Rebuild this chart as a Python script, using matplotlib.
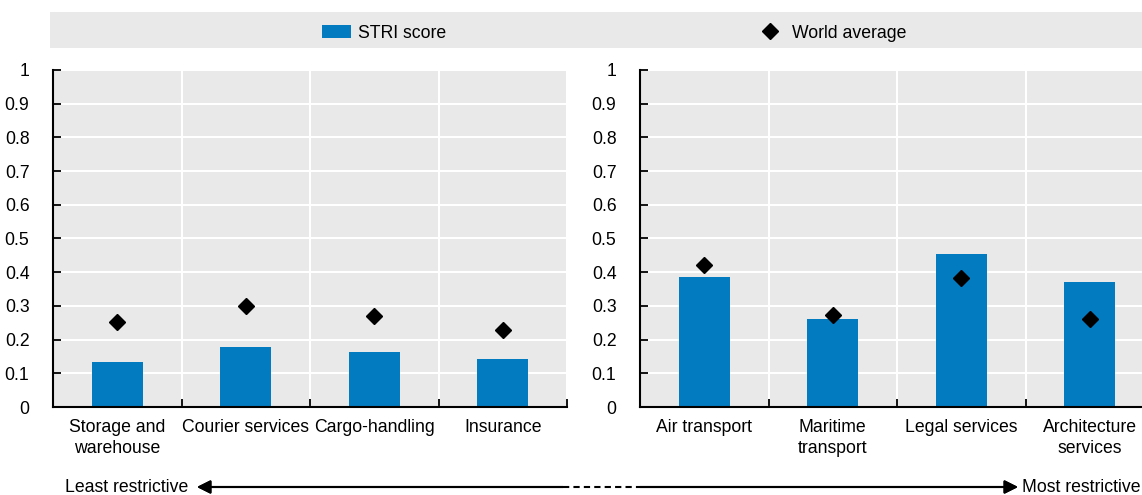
import matplotlib.pyplot as plt
from matplotlib.lines import Line2D
from matplotlib.patches import Rectangle

plt.rcParams['font.family'] = ['Liberation Sans', 'DejaVu Sans']

left_labels = ['Storage and\nwarehouse', 'Courier services', 'Cargo-handling', 'Insurance']
left_stri = [0.133, 0.178, 0.163, 0.141]
left_world = [0.251, 0.299, 0.269, 0.228]

right_labels = ['Air transport', 'Maritime\ntransport', 'Legal services', 'Architecture\nservices']
right_stri = [0.385, 0.260, 0.453, 0.372]
right_world = [0.420, 0.273, 0.384, 0.262]

yticks = [0, 0.1, 0.2, 0.3, 0.4, 0.5, 0.6, 0.7, 0.8, 0.9, 1]
ytick_labels = ['0', '0.1', '0.2', '0.3', '0.4', '0.5', '0.6', '0.7', '0.8', '0.9', '1']

blue = '#037BC1'
grey = '#E9E9E9'
fs = 12.7

W, H = 1142, 495
fig = plt.figure(figsize=(W / 100, H / 100), dpi=100)

# legend band
fig.add_artist(Rectangle((50 / W, 1 - 48 / H), 1 - 50 / W, 36 / H,
                         transform=fig.transFigure, facecolor=grey, edgecolor='none'))


def panel(left_px, labels, stri, world):
    ax = fig.add_axes([left_px / W, 1 - 407 / H, 514 / W, 337 / H])
    ax.set_facecolor(grey)
    x = list(range(len(labels)))
    bars = ax.bar(x, stri, width=0.4, color=blue, zorder=3)
    pts, = ax.plot(x, world, linestyle='none', marker='D', color='black',
                   markersize=8, zorder=4)
    ax.set_xlim(-0.5, len(labels) - 0.5)
    ax.set_ylim(0, 1)
    ax.set_yticks(yticks)
    ax.set_yticklabels(ytick_labels, fontsize=fs)
    ax.set_xticks([i - 0.5 for i in range(len(labels) + 1)])
    ax.set_xticklabels([])
    ax.set_xticks(x, minor=True)
    ax.set_xticklabels(labels, minor=True, fontsize=fs, linespacing=1.3)
    ax.tick_params(axis='x', which='major', direction='in', length=6, width=1.3)
    ax.tick_params(axis='x', which='minor', length=0, pad=9)
    ax.tick_params(axis='y', direction='in', length=6, width=1.3, pad=17)
    for lab in ax.get_yticklabels():
        lab.set_horizontalalignment('right')
    ax.grid(True, color='white', linewidth=1.5, zorder=0)
    ax.set_axisbelow(True)
    for s in ['top', 'right']:
        ax.spines[s].set_visible(False)
    for s in ['left', 'bottom']:
        ax.spines[s].set_linewidth(1.5)
        ax.spines[s].set_zorder(5)
    return bars, pts


bars, pts = panel(53, left_labels, left_stri, left_world)
panel(640, right_labels, right_stri, right_world)

fig.legend([bars], ['STRI score'], loc='center left', bbox_to_anchor=(306 / W, 1 - 33 / H),
           frameon=False, fontsize=fs, handlelength=1.65, handleheight=0.8, handletextpad=0.4)
fig.legend([pts], ['World average'], loc='center left', bbox_to_anchor=(743 / W, 1 - 33 / H),
           frameon=False, fontsize=fs, handlelength=1.3, handletextpad=0.6)

# restrictiveness arrow
ya = 1 - 487 / H
fig.text(65 / W, ya, 'Least restrictive', fontsize=fs, va='center', ha='left')
fig.text(1 - 1 / W, ya, 'Most restrictive', fontsize=fs, va='center', ha='right')
fig.add_artist(Line2D([563 / W, 640 / W], [ya, ya], transform=fig.transFigure,
                      color='black', linewidth=1.5, linestyle=(0, (3, 2))))
fig.add_artist(plt.annotate('', xy=(197 / W, ya), xytext=(563 / W, ya),
                            xycoords='figure fraction', textcoords='figure fraction',
                            arrowprops=dict(arrowstyle='-|>', color='black', lw=1.5,
                                            mutation_scale=20, shrinkA=0, shrinkB=0)))
fig.add_artist(plt.annotate('', xy=(1018 / W, ya), xytext=(640 / W, ya),
                            xycoords='figure fraction', textcoords='figure fraction',
                            arrowprops=dict(arrowstyle='-|>', color='black', lw=1.5,
                                            mutation_scale=20, shrinkA=0, shrinkB=0)))

fig.savefig('out.png', dpi=100)
